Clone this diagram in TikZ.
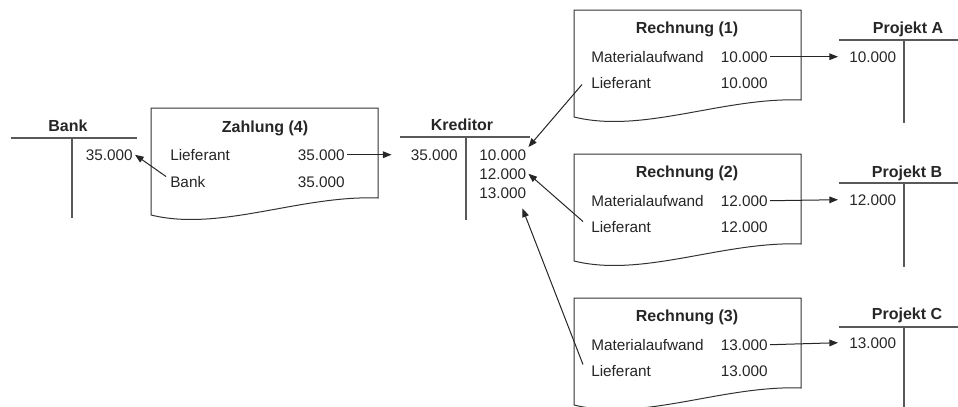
\documentclass[tikz,border=0pt]{standalone}
\usepackage{fontspec}
\setmainfont{Liberation Sans}
\usetikzlibrary{arrows.meta}

\begin{document}
\begin{tikzpicture}[
  x=0.75pt,y=-0.75pt,
  >={Triangle[length=6.5pt,width=5pt]},
  font=\fontsize{11.5}{13}\selectfont,
  beleg/.style={draw=black!80, line width=0.75pt, fill=white},
  konto/.style={draw=black!65, line width=0.9pt},
  titel/.style={font=\fontsize{12}{14}\selectfont\bfseries, anchor=base, inner sep=1.5pt, text=black!85},
  posten/.style={anchor=base west, inner sep=1.5pt, text=black!85},
  betrag/.style={anchor=base east, inner sep=1.5pt, text=black!85},
  buchung/.style={->, draw=black!85, line width=0.75pt}
]
\useasboundingbox (0,0) rectangle (958,407);
\clip (0,0) rectangle (958,407);

% ================= T-Konten =================
% Bank
\node[titel] (bank) at (68,131) {Bank};
\draw[konto] (11,138) -- (137,138);
\draw[konto] (72,138) -- (72,218);
\node[betrag] (b35) at (135,160) {35.000};

% Kreditor
\node[titel] (kred) at (462,130) {Kreditor};
\draw[konto] (400,137) -- (530,137);
\draw[konto] (466,137) -- (466,220);
\node[betrag] (k35) at (460,160) {35.000};
\node[posten] (k10) at (477,160) {10.000};
\node[posten] (k12) at (477,179) {12.000};
\node[posten] (k13) at (477,198) {13.000};

% Projekte
\node[titel] (pa) at (908,33) {Projekt A};
\draw[konto] (839,40) -- (958,40);
\draw[konto] (904,40) -- (904,123);
\node[posten] (pa10) at (847,62) {10.000};

\node[titel] (pb) at (907,177) {Projekt B};
\draw[konto] (839,183) -- (958,183);
\draw[konto] (904,183) -- (904,267);
\node[posten] (pb12) at (847,205) {12.000};

\node[titel] (pc) at (907,319) {Projekt C};
\draw[konto] (839,327) -- (958,327);
\draw[konto] (904,327) -- (904,410);
\node[posten] (pc13) at (847,348) {13.000};

% ================= Belege =================
\begin{scope}[shift={(151,108)}]
  \draw[beleg] (0,0) -- (227,0) -- (227,90) .. controls (149,87) and (69,124) .. (0,107) -- cycle;
  \node[titel] (zt) at (114,24) {Zahlung (4)};
  \node[posten] (zl) at (17,52) {Lieferant};
  \node[betrag] (zlv) at (196,52) {35.000};
  \node[posten] (zb) at (17,79) {Bank};
  \node[betrag] (zbv) at (196,79) {35.000};
\end{scope}

\begin{scope}[shift={(574,10)}]
  \draw[beleg] (0,0) -- (227,0) -- (227,90) .. controls (149,87) and (69,124) .. (0,107) -- cycle;
  \node[titel] (r1t) at (113,23) {Rechnung (1)};
  \node[posten] (r1m) at (15,52) {Materialaufwand};
  \node[betrag] (r1mv) at (196,52) {10.000};
  \node[posten] (r1l) at (15,78) {Lieferant};
  \node[betrag] (r1lv) at (196,78) {10.000};
\end{scope}

\begin{scope}[shift={(574,154)}]
  \draw[beleg] (0,0) -- (227,0) -- (227,90) .. controls (149,87) and (69,124) .. (0,107) -- cycle;
  \node[titel] (r2t) at (113,23) {Rechnung (2)};
  \node[posten] (r2m) at (15,52) {Materialaufwand};
  \node[betrag] (r2mv) at (196,52) {12.000};
  \node[posten] (r2l) at (15,78) {Lieferant};
  \node[betrag] (r2lv) at (196,78) {12.000};
\end{scope}

\begin{scope}[shift={(574,298)}]
  \draw[beleg] (0,0) -- (227,0) -- (227,90) .. controls (149,87) and (69,124) .. (0,107) -- cycle;
  \node[titel] (r3t) at (113,23) {Rechnung (3)};
  \node[posten] (r3m) at (15,52) {Materialaufwand};
  \node[betrag] (r3mv) at (196,52) {13.000};
  \node[posten] (r3l) at (15,78) {Lieferant};
  \node[betrag] (r3lv) at (196,78) {13.000};
\end{scope}

% ================= Buchungen =================
\draw[buchung] (zlv.east) -- ([xshift=-12.75pt]k35.west);
\draw[buchung] ([shift={(-2,-5)}]zb.west) -- (b35.east);

\draw[buchung] ([shift={(-7,2)}]r1l.west) -- (k10.north east);
\draw[buchung] ([shift={(-6,-5)}]r2l.west) -- (k12.east);
\draw[buchung] ([shift={(-6,-6)}]r3l.west) -- ([shift={(-6,8)}]k13.south east);

\draw[buchung] (r1mv.east) -- ([xshift=-6.75pt]pa10.west);
\draw[buchung] (r2mv.east) -- ([xshift=-6.75pt]pb12.west);
\draw[buchung] (r3mv.east) -- ([xshift=-6.75pt]pc13.west);

\end{tikzpicture}
\end{document}
